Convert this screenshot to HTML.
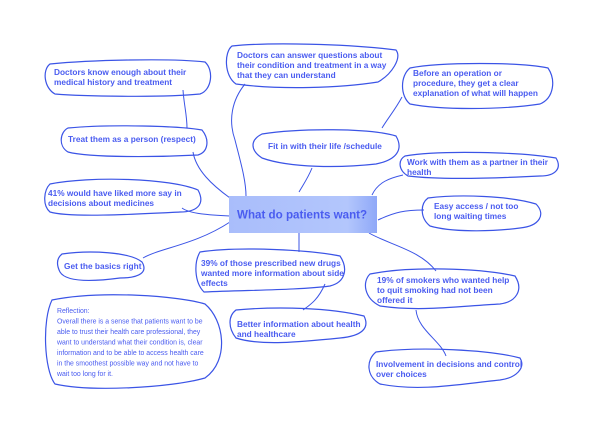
<!DOCTYPE html>
<html><head><meta charset="utf-8"><style>
html,body{margin:0;padding:0;background:#fff;}
svg{display:block;}
text{font-family:"Liberation Sans",sans-serif;font-weight:bold;fill:#4a5cf0;font-size:8.3px;}
.r{font-weight:normal;font-size:6.9px;}
.b{fill:none;stroke:#3b54e6;stroke-width:1.2;}
.c{fill:none;stroke:#3b54e6;stroke-width:1;}
</style></head><body>
<svg width="606" height="429" viewBox="0 0 606 429">
<defs><linearGradient id="g" x1="0" x2="1" y1="0" y2="0"><stop offset="0" stop-color="#a9bdfb"/><stop offset="0.8" stop-color="#b3c6fc"/><stop offset="1" stop-color="#8fa8f8"/></linearGradient></defs>
<path class="c" d="M183 90 C184 105 187 115 187 128"/>
<path class="c" d="M193 152 C196 170 212 185 230 198"/>
<path class="c" d="M182 208 C190 214 210 215 230 216"/>
<path class="c" d="M143 258 C160 248 195 245 230 222"/>
<path class="c" d="M245 84 C232 100 228 120 235 140 C240 160 246 180 246 196"/>
<path class="c" d="M312 168 C308 178 303 185 299 192"/>
<path class="c" d="M402 97 C395 110 388 118 382 128"/>
<path class="c" d="M403 175 C390 178 378 182 372 195"/>
<path class="c" d="M424 210 C405 210 395 212 378 220"/>
<path class="c" d="M299 233 L299 252"/>
<path class="c" d="M369 233 C390 245 420 250 436 271"/>
<path class="c" d="M325 284 C318 300 310 305 303 310"/>
<path class="c" d="M416 310 C418 330 440 340 446 356"/>
<path class="b" d="M50 64 C90 60 170 58 205 62 C214 70 212 90 200 94 C160 98 80 96 55 94 C44 88 42 70 50 64Z"/>
<path class="b" d="M68 128 C110 124 180 126 202 130 C210 140 208 152 198 155 C160 157 90 158 68 152 C58 146 60 132 68 128Z"/>
<path class="b" d="M50 184 C90 176 170 178 198 190 C206 205 196 212 180 212 C140 214 70 218 50 212 C42 205 44 190 50 184Z"/>
<path class="b" d="M62 254 C90 250 130 252 142 262 C148 272 140 278 120 278 C90 282 66 282 60 272 C56 264 57 258 62 254Z"/>
<path class="b" d="M232 46 C270 42 350 44 396 50 C402 58 392 74 378 82 C340 88 280 90 236 84 C224 76 224 52 232 46Z"/>
<path class="b" d="M410 68 C440 62 520 62 548 68 C556 80 554 98 540 104 C500 110 440 110 410 104 C400 96 400 76 410 68Z"/>
<path class="b" d="M262 134 C300 128 370 128 396 136 C404 150 396 160 376 164 C340 168 290 168 262 158 C250 150 250 140 262 134Z"/>
<path class="b" d="M405 156 C440 150 520 152 556 158 C562 168 556 176 540 176 C500 178 440 180 408 176 C398 170 398 160 405 156Z"/>
<path class="b" d="M428 198 C460 194 510 196 536 204 C546 214 540 226 520 228 C490 232 450 232 430 226 C420 218 420 204 428 198Z"/>
<path class="b" d="M200 252 C240 246 310 250 340 256 C348 268 346 282 330 286 C300 290 250 290 204 292 C194 282 194 262 200 252Z"/>
<path class="b" d="M236 310 C280 306 330 308 364 316 C370 328 362 336 340 338 C300 342 260 346 236 338 C228 328 228 316 236 310Z"/>
<path class="b" d="M370 274 C410 266 480 268 515 276 C524 290 516 302 500 304 C460 306 420 312 380 306 C364 298 362 282 370 274Z"/>
<path class="b" d="M376 352 C420 346 490 350 520 358 C526 368 516 378 500 380 C460 384 420 392 380 384 C366 376 366 360 376 352Z"/>
<path class="b" d="M52 300 C100 290 180 296 205 304 C224 320 230 360 205 378 C170 388 90 392 55 384 C44 370 42 320 52 300Z"/>
<rect x="229" y="196" width="148" height="37" fill="url(#g)"/>
<text x="237" y="218.5" style="font-size:11.6px">What do patients want?</text>
<text x="54" y="75">Doctors know enough about their</text>
<text x="54" y="85">medical history and treatment</text>
<text x="68" y="142">Treat them as a person (respect)</text>
<text x="48" y="196">41% would have liked more say in</text>
<text x="48" y="206">decisions about medicines</text>
<text x="64" y="269">Get the basics right</text>
<text x="237" y="58">Doctors can answer questions about</text>
<text x="237" y="68">their condition and treatment in a way</text>
<text x="237" y="78">that they can understand</text>
<text x="413" y="76">Before an operation or</text>
<text x="413" y="86">procedure, they get a clear</text>
<text x="413" y="96">explanation of what will happen</text>
<text x="268" y="149">Fit in with their life /schedule</text>
<text x="407" y="165">Work with them as a partner in their</text>
<text x="407" y="175">health</text>
<text x="434" y="209">Easy access / not too</text>
<text x="434" y="219">long waiting times</text>
<text x="201" y="266">39% of those prescribed new drugs</text>
<text x="201" y="276">wanted more information about side</text>
<text x="201" y="286">effects</text>
<text x="237" y="327">Better information about health</text>
<text x="237" y="337">and healthcare</text>
<text x="377" y="283">19% of smokers who wanted help</text>
<text x="377" y="293">to quit smoking had not been</text>
<text x="377" y="303">offered it</text>
<text x="376" y="367">Involvement in decisions and control</text>
<text x="376" y="377">over choices</text>
<text class="r" x="57" y="313">Reflection:</text>
<text class="r" x="57" y="323.5">Overall there is a sense that patients want to be</text>
<text class="r" x="57" y="334">able to trust their health care professional, they</text>
<text class="r" x="57" y="344.5">want to understand what their condition is, clear</text>
<text class="r" x="57" y="355">information and to be able to access health care</text>
<text class="r" x="57" y="365.5">in the smoothest possible way and not have to</text>
<text class="r" x="57" y="376">wait too long for it.</text>
</svg>
</body></html>
